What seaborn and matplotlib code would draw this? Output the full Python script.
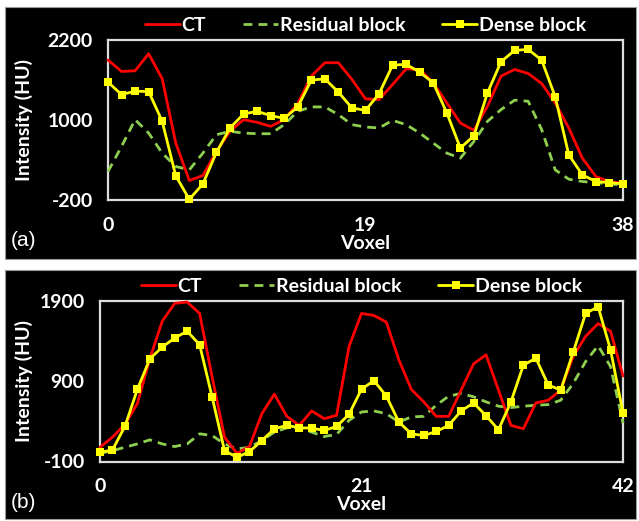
import matplotlib
matplotlib.use("Agg")
import matplotlib.pyplot as plt
from matplotlib.patches import Rectangle
import seaborn as sns
import numpy as np
import pandas as pd

sns.set_style("dark")
plt.rcParams['font.family'] = ['Lato', 'DejaVu Sans']
plt.rcParams['font.weight'] = 'bold'
plt.rcParams['axes.unicode_minus'] = False

# ---------------- data ----------------
series_names = ["CT", "Residual block", "Dense block"]

a_ct = [1899, 1728, 1738, 1994, 1618, 654, 92, 167, 528, 830, 1005, 965, 905, 1005,
        1246, 1658, 1859, 1859, 1608, 1317, 1307, 1532, 1768, 1758, 1557, 1256, 955,
        845, 1206, 1658, 1758, 1698, 1547, 1256, 880, 428, 152, 77, 51]
a_res = [227, 604, 1005, 804, 503, 302, 252, 503, 779, 830, 804, 794, 794, 930, 1131,
         1196, 1196, 1080, 930, 895, 880, 995, 930, 804, 654, 503, 428, 679, 980, 1156,
         1297, 1282, 855, 252, 112, 77, 61, 41, 26]
a_dense = [1567, 1382, 1432, 1427, 980, 162, -190, 41, 513, 880, 1090, 1131, 1065, 1025,
           1196, 1598, 1618, 1417, 1181, 1144, 1392, 1823, 1834, 1718, 1557, 1106, 579,
           764, 1407, 1874, 2044, 2059, 1899, 1347, 478, 177, 77, 61, 41]

b_ct = [77, 203, 362, 622, 1180, 1649, 1871, 1887, 1745, 957, 203, 2, 86, 496, 739, 463,
        350, 530, 434, 475, 1334, 1745, 1720, 1636, 1167, 798, 643, 463, 463, 790, 1116,
        1230, 790, 350, 308, 630, 664, 790, 1209, 1460, 1619, 1523, 966]
b_res = [2, 35, 77, 119, 170, 119, 86, 119, 245, 224, 119, 56, 77, 161, 266, 320, 316,
         266, 211, 237, 413, 517, 530, 496, 392, 455, 463, 601, 714, 748, 706, 643, 589,
         572, 589, 601, 609, 664, 873, 1146, 1343, 1083, 379]
b_dense = [14, 44, 337, 798, 1179, 1326, 1439, 1523, 1355, 706, 35, -48, 23, 161, 308,
           350, 320, 316, 287, 337, 488, 802, 907, 714, 392, 245, 224, 274, 350, 530, 630,
           471, 295, 643, 1100, 1188, 853, 790, 1263, 1745, 1829, 1292, 505]

a_xticks = [0, 19, 38]
a_yticks = [-200, 1000, 2200]
b_xticks = [0, 21, 42]
b_yticks = [-100, 900, 1900]
panel_tags = ["(a)", "(b)"]

# ---------------- figure ----------------
W, H = 639, 521
fig = plt.figure(figsize=(W / 100, H / 100), dpi=100, facecolor="white")

def fx(px):
    return px / W

def fy(py):
    return 1 - py / H

# black panel backgrounds
fig.patches.append(Rectangle((fx(5), fy(259)), fx(631), 252 / H, transform=fig.transFigure,
                             facecolor="black", edgecolor="#9a9a9a", lw=0.8, zorder=-5))
fig.patches.append(Rectangle((fx(5), fy(519)), fx(631), 249 / H, transform=fig.transFigure,
                             facecolor="black", edgecolor="#9a9a9a", lw=0.8, zorder=-5))

CT_COLOR = "#ff0000"
RES_COLOR = "#8fcf4f"
DENSE_COLOR = "#ffff00"
SPINE = "#dcdcdc"
FS = 14

def draw_panel(rect, ct, res, dense, xticks, yticks, tag, tag_y, xlabel_y):
    ax = fig.add_axes(rect)
    ax.set_zorder(1)
    ax.set_facecolor("black")
    x = np.arange(len(ct))
    df = pd.DataFrame({"Voxel": x, "CT": ct, "Residual block": res, "Dense block": dense})
    sns.lineplot(data=df, x="Voxel", y="Residual block", ax=ax, color=RES_COLOR, lw=2.0,
                 linestyle=(0, (3.2, 2.2)), label=series_names[1], clip_on=False, zorder=3)
    sns.lineplot(data=df, x="Voxel", y="CT", ax=ax, color=CT_COLOR, lw=2.0,
                 label=series_names[0], clip_on=False, zorder=4)
    sns.lineplot(data=df, x="Voxel", y="Dense block", ax=ax, color=DENSE_COLOR, lw=2.0,
                 marker="s", markersize=6, markeredgewidth=0, label=series_names[2],
                 clip_on=False, zorder=5)
    ax.set_xlim(xticks[0], xticks[-1])
    ax.set_ylim(yticks[0], yticks[-1])
    ax.set_xticks(xticks)
    ax.set_yticks(yticks)
    ax.grid(False)
    for s in ax.spines.values():
        s.set_visible(True)
        s.set_color(SPINE)
        s.set_linewidth(1.6)
    ax.tick_params(axis="both", colors=SPINE, direction="out", length=5, width=1.6,
                   labelcolor="white", labelsize=FS)
    ax.tick_params(axis="x", pad=7)
    ax.tick_params(axis="y", pad=6)
    for lab in ax.get_xticklabels() + ax.get_yticklabels():
        lab.set_fontweight("bold")
    ax.set_ylabel("")
    ax.set_xlabel("")
    fig.text(fx(24), rect[1] + rect[3] / 2, "Intensity (HU)", color="white", fontsize=FS,
             fontweight="bold", ha="center", va="center", rotation=90)
    fig.text(rect[0] + rect[2] / 2, xlabel_y, "Voxel", color="white", fontsize=FS,
             fontweight="bold", ha="center", va="center")
    fig.text(fx(11), tag_y, tag, color="white", fontsize=15, fontweight="normal",
             family=["Liberation Sans", "DejaVu Sans"], ha="left", va="center")
    h, l = ax.get_legend_handles_labels()
    order = [l.index(n) for n in series_names]
    ax.legend([h[i] for i in order], [l[i] for i in order], loc="lower center",
              bbox_to_anchor=(0.5, 1.0), ncol=3, frameon=False, handlelength=1.8,
              columnspacing=1.9, handletextpad=0.1, borderaxespad=-0.1,
              prop={"weight": "bold", "size": FS}, labelcolor="white")
    return ax

ax_a = draw_panel([fx(108), fy(200), fx(623) - fx(108), (200 - 40) / H],
                  a_ct, a_res, a_dense, a_xticks, a_yticks, panel_tags[0], fy(241), fy(243))
ax_b = draw_panel([fx(100), fy(461.5), fx(623) - fx(100), (461.5 - 301) / H],
                  b_ct, b_res, b_dense, b_xticks, b_yticks, panel_tags[1], fy(502), fy(504))

fig.savefig("out.png", dpi=100, facecolor="white")
